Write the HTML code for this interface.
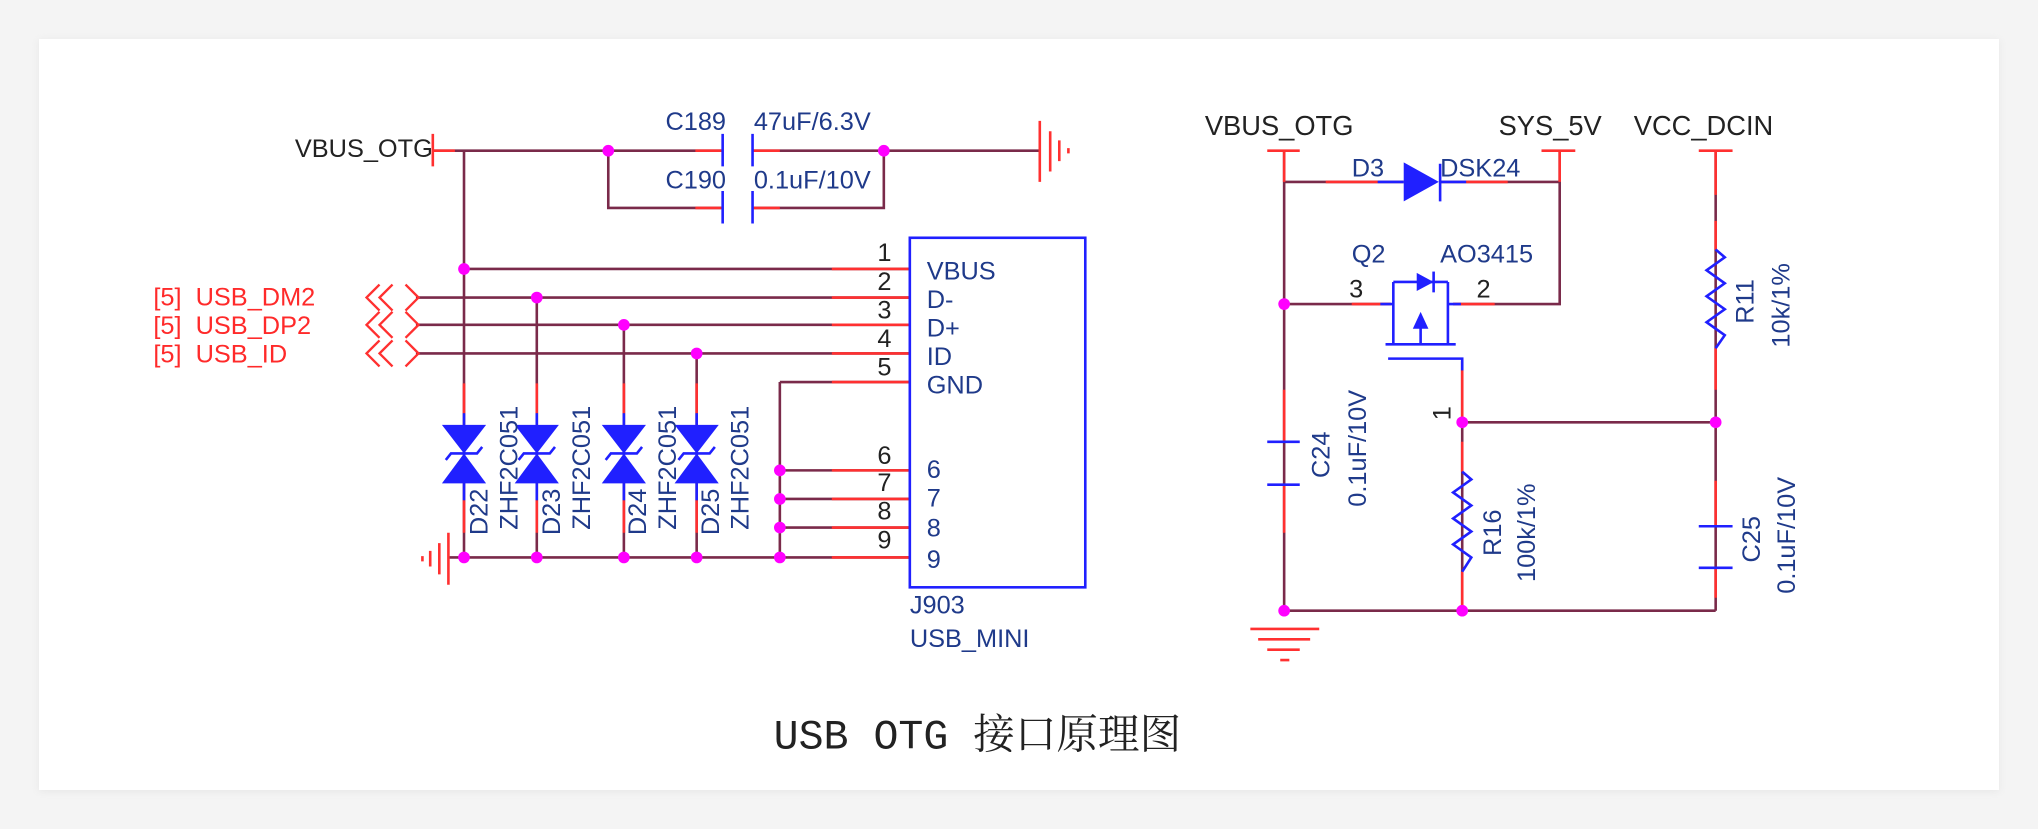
<!DOCTYPE html>
<html><head><meta charset="utf-8"><style>
html,body{margin:0;padding:0;background:#f4f4f4;}
svg{display:block;}
text{font-family:"Liberation Sans",sans-serif;white-space:pre;}
</style></head><body>
<svg width="2038" height="829" viewBox="0 0 1568 638" preserveAspectRatio="none" xmlns="http://www.w3.org/2000/svg">
<defs><filter id="sh" x="-5%" y="-5%" width="110%" height="110%"><feGaussianBlur stdDeviation="3"/></filter></defs>
<rect x="0" y="0" width="1568" height="638" fill="#f4f4f4"/>
<rect x="30" y="31" width="1508" height="578" fill="#e6e6e6" filter="url(#sh)"/>
<rect x="30" y="30" width="1508" height="578" fill="#ffffff"/>
<g fill="none" stroke-width="2">
<g stroke="#7a2a4a">
<path d="M333 116H555M579 116H800"/>
<path d="M468 116V160H555M579 160H680V116"/>
<path d="M357 116V430"/>
<path d="M357 207H700M320 229H700M320 250H700M320 272H700"/>
<path d="M413 229V430M480 250V430M536 272V430"/>
<path d="M600 294H700M600 294V429M600 362H700M600 384H700M600 406H700M600 429H700M345 429H700"/>
</g>
<g stroke="#ff3030">
<path d="M333 103V128M333 116H350M535 116H555M579 116H600M535 160H555M579 160H600"/>
<path d="M640 207H700M640 229H700M640 250H700M640 272H700M640 294H700M640 362H700M640 384H700M640 406H700M640 429H700"/>
<path d="M357 295V318M413 295V318M480 295V318M536 295V318M357 385V410M413 385V410M480 385V410M536 385V410"/>
<path d="M800 93V140M808 101V132M815 108V124M822 114V118"/>
<path d="M345 410V450M338 418V442M331 424V436M325 428V432"/>
</g>
<g stroke="#ff3030" stroke-width="1.8">
<path d="M292 219L282 229L292 239M292 240L282 250L292 260M292 262L282 272L292 282"/>
<path d="M312 219L322 229L312 239M312 240L322 250L312 260M312 262L322 272L312 282"/>
<path d="M302 219L292 229L302 239M302 240L292 250L302 260M302 262L292 272L302 282"/>
</g>
<g stroke="#2020ff">
<path d="M556 103V128M579 103V128M556 147V172M579 147V172"/>
<rect x="700" y="183" width="135" height="269"/>
</g>
<g stroke="#7a2a4a">
<path d="M988 116V470H1320M1320 116V470"/>
<path d="M988 140H1080M1108 140H1200V116M1200 140V234H1118"/>
<path d="M988 234H1070"/>
<path d="M1125 278V470M1125 325H1320"/>
</g>
<g stroke="#ff3030">
<path d="M975 116H1000M1186 116H1212M1307 116H1333"/>
<path d="M988 116V140M1200 116V140M1320 116V150M1320 170V192M1320 268V300"/>
<path d="M1020 140H1060M1128 140H1160M1040 234H1070M1118 234H1150"/>
<path d="M1125 285V325M1125 340V363M1125 440V470"/>
<path d="M988 300V340M988 373V410M1320 370V405M1320 437V460"/>
<path d="M962 484H1015M968 492H1008M975 500H1000M985 508H992"/>
</g>
<g stroke="#2020ff">
<path d="M975 340H1000M975 373H1000M1307 405H1333M1307 437H1333"/>
<path d="M1108 126V155M1060 140H1080M1108 140H1128"/>
<path d="M1072 217H1114M1072 217V265M1114 217V265M1066 265H1120M1093 245V265"/>
<path d="M1062 234H1072M1114 234H1124"/>
<path d="M1068 276H1125V285"/>
<path d="M1103 209V225"/>
<path d="M1320 192L1327 198L1313 208L1327 218L1313 228L1327 238L1313 248L1327 258L1320 268"/>
<path d="M1125 363L1132 369L1118 379L1132 389L1118 399L1132 409L1118 419L1132 429L1125 440"/>
<path d="M357 318V327M413 318V327M480 318V327M536 318V327M357 372V385M413 372V385M480 372V385M536 372V385"/>
</g>
</g>
<g fill="#2020ff">
<polygon points="1080,125 1080,155 1107,140"/>
<polygon points="1090,210 1090,224 1103,217"/>
<polygon points="1093,240 1087,253 1099,253"/>
<g id="tvs">
<polygon points="340,327 374,327 357,349"/>
<polygon points="340,372 374,372 357,349"/>
<path d="M343 354L347 349H367L371 344" fill="none" stroke="#2020ff" stroke-width="2"/>
</g>
<use href="#tvs" x="56"/><use href="#tvs" x="123"/><use href="#tvs" x="179"/>
</g>
<g fill="#ff00ff">
<circle cx="468" cy="116" r="4.5"/><circle cx="680" cy="116" r="4.5"/>
<circle cx="357" cy="207" r="4.5"/><circle cx="413" cy="229" r="4.5"/><circle cx="480" cy="250" r="4.5"/><circle cx="536" cy="272" r="4.5"/>
<circle cx="600" cy="362" r="4.5"/><circle cx="600" cy="384" r="4.5"/><circle cx="600" cy="406" r="4.5"/><circle cx="600" cy="429" r="4.5"/>
<circle cx="357" cy="429" r="4.5"/><circle cx="413" cy="429" r="4.5"/><circle cx="480" cy="429" r="4.5"/><circle cx="536" cy="429" r="4.5"/>
<circle cx="988" cy="234" r="4.5"/><circle cx="1125" cy="325" r="4.5"/><circle cx="1320" cy="325" r="4.5"/>
<circle cx="988" cy="470" r="4.5"/><circle cx="1125" cy="470" r="4.5"/>
</g>
<g font-size="19.5" fill="#222">
<text x="333" y="121" text-anchor="end">VBUS_OTG</text>
<text x="927" y="104" font-size="21">VBUS_OTG</text>
<text x="1153" y="104" font-size="21">SYS_5V</text>
<text x="1257" y="104" font-size="21">VCC_DCIN</text>
<text x="675" y="201">1</text><text x="675" y="223">2</text><text x="675" y="245">3</text><text x="675" y="267">4</text><text x="675" y="289">5</text>
<text x="675" y="357">6</text><text x="675" y="378">7</text><text x="675" y="400">8</text><text x="675" y="422">9</text>
<text x="1038" y="229">3</text><text x="1136" y="229">2</text>
<text transform="translate(1116,318) rotate(-90)" text-anchor="middle">1</text>
</g>
<g font-size="19.5" fill="#ff2a2a">
<text x="118" y="235">[5]  USB_DM2</text>
<text x="118" y="257">[5]  USB_DP2</text>
<text x="118" y="279">[5]  USB_ID</text>
</g>
<g font-size="19.5" fill="#1f3a8a">
<text x="512" y="100">C189</text><text x="580" y="100">47uF/6.3V</text>
<text x="512" y="145">C190</text><text x="580" y="145">0.1uF/10V</text>
<text x="713" y="215">VBUS</text><text x="713" y="237">D-</text><text x="713" y="259">D+</text><text x="713" y="281">ID</text><text x="713" y="303">GND</text>
<text x="713" y="368">6</text><text x="713" y="390">7</text><text x="713" y="413">8</text><text x="713" y="437">9</text>
<text x="700" y="472">J903</text><text x="700" y="498">USB_MINI</text>
<text x="1040" y="136">D3</text><text x="1108" y="136">DSK24</text>
<text x="1040" y="202">Q2</text><text x="1108" y="202">AO3415</text>
<g text-anchor="middle">
<text transform="translate(375,394) rotate(-90)">D22</text>
<text transform="translate(398,360) rotate(-90)">ZHF2C051</text>
<text transform="translate(431,394) rotate(-90)">D23</text>
<text transform="translate(454,360) rotate(-90)">ZHF2C051</text>
<text transform="translate(497,394) rotate(-90)">D24</text>
<text transform="translate(520,360) rotate(-90)">ZHF2C051</text>
<text transform="translate(553,394) rotate(-90)">D25</text>
<text transform="translate(576,360) rotate(-90)">ZHF2C051</text>
<text transform="translate(1023,350) rotate(-90)">C24</text>
<text transform="translate(1051,345) rotate(-90)">0.1uF/10V</text>
<text transform="translate(1155,410) rotate(-90)">R16</text>
<text transform="translate(1181,410) rotate(-90)">100k/1%</text>
<text transform="translate(1349,232) rotate(-90)">R11</text>
<text transform="translate(1377,235) rotate(-90)">10k/1%</text>
<text transform="translate(1354,415) rotate(-90)">C25</text>
<text transform="translate(1381,412) rotate(-90)">0.1uF/10V</text>
</g>
</g>
<text x="752" y="576" text-anchor="middle" font-size="32" fill="#222" style="font-family:'Liberation Mono','Noto Serif CJK SC',serif">USB OTG 接口原理图</text>
</svg>
</body></html>
